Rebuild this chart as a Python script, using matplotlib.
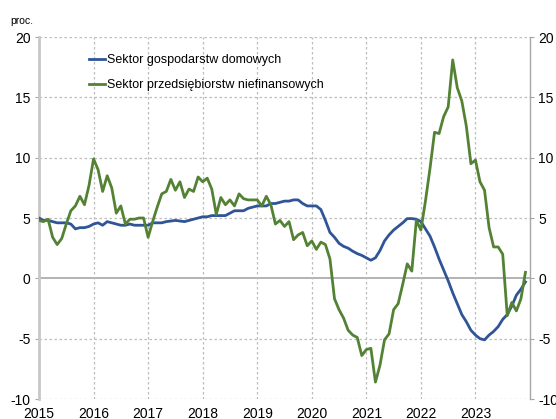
import numpy as np
import matplotlib
matplotlib.use("Agg")
import matplotlib.pyplot as plt

plt.rcParams['font.family'] = ['Liberation Sans', 'DejaVu Sans']

# Monthly data, Jan 2015 - Dec 2023 (y/y, %)
households = [
    5.0, 4.8, 4.8, 4.7, 4.6, 4.6, 4.6, 4.5, 4.1, 4.2, 4.2, 4.3,
    4.5, 4.6, 4.4, 4.7, 4.6, 4.5, 4.4, 4.4, 4.5, 4.4, 4.4, 4.4,
    4.4, 4.6, 4.6, 4.6, 4.7, 4.75, 4.8, 4.75, 4.7, 4.8, 4.9, 5.0,
    5.1, 5.1, 5.2, 5.2, 5.2, 5.2, 5.4, 5.6, 5.6, 5.6, 5.8, 5.9,
    6.0, 6.0, 6.0, 6.2, 6.2, 6.3, 6.4, 6.4, 6.5, 6.5, 6.2, 6.0,
    6.0, 6.0, 5.7, 4.8, 3.8, 3.4, 2.9, 2.65, 2.5, 2.25, 2.05, 1.9,
    1.7, 1.5, 1.7, 2.3, 3.1, 3.6, 4.0, 4.3, 4.6, 4.95, 4.95, 4.9,
    4.7, 4.1, 3.5, 2.6, 1.6, 0.7, -0.2, -1.2, -2.1, -3.0, -3.6, -4.3,
    -4.7, -5.0, -5.1, -4.7, -4.4, -4.0, -3.4, -3.0, -2.3, -1.4, -0.9, -0.3,
]
enterprises = [
    4.8, 4.7, 4.9, 3.4, 2.8, 3.3, 4.5, 5.6, 6.0, 6.8, 6.1, 7.7,
    9.9, 9.0, 7.2, 8.5, 7.5, 5.4, 6.0, 4.5, 4.9, 4.9, 5.0, 5.0,
    3.4, 4.7, 5.9, 7.0, 7.2, 8.2, 7.3, 8.0, 6.7, 7.4, 7.2, 8.4,
    8.0, 8.3, 7.4, 5.3, 6.7, 6.1, 6.5, 6.0, 7.0, 6.6, 6.5, 6.5,
    6.5, 6.0, 6.8, 6.1, 4.5, 4.8, 4.3, 4.7, 3.2, 3.6, 3.8, 2.7,
    3.1, 2.4, 3.0, 2.8, 1.6, -1.7, -2.6, -3.3, -4.3, -4.7, -4.9, -6.4,
    -5.9, -5.8, -8.6, -7.2, -5.1, -4.6, -2.6, -2.1, -0.5, 1.2, 0.6, 4.8,
    4.0, 6.4, 9.1, 12.1, 12.0, 13.4, 14.2, 18.1, 15.8, 14.7, 12.6, 9.5,
    9.8, 8.0, 7.3, 4.2, 2.6, 2.6, 2.0, -3.1, -2.0, -2.7, -1.7, 0.5,
]
series_labels = ["Sektor gospodarstw domowych", "Sektor przedsiębiorstw niefinansowych"]
years = [2015, 2016, 2017, 2018, 2019, 2020, 2021, 2022, 2023]
y_ticks = [-10, -5, 0, 5, 10, 15, 20]

x = 2015 + np.arange(len(households)) / 12.0

fig = plt.figure(figsize=(5.56, 4.19), dpi=100)
ax = fig.add_axes([39/556, 20/419, 491/556, 362/419])

grid_col = '#BDBDBD'
for yv in y_ticks:
    if yv == 0:
        ax.axhline(yv, color='#A6A6A6', lw=1.2, zorder=1)
    else:
        ax.axhline(yv, color=grid_col, lw=0.9, ls=(0, (2, 2)), zorder=1)
for yr in years[1:]:
    ax.axvline(yr, color=grid_col, lw=0.9, ls=(0, (2, 2)), zorder=1)

ax.plot(x, households, color='#2F5597', lw=2.0, label=series_labels[0], zorder=3)
ax.plot(x, enterprises, color='#548235', lw=2.0, label=series_labels[1], zorder=3)

ax.set_xlim(2015, 2024)
ax.set_ylim(-10, 20)
ax.set_yticks(y_ticks)
ax.set_yticklabels([str(v) for v in y_ticks])
ax.set_xticks(years)
ax.set_xticklabels([str(v) for v in years])

ax.tick_params(axis='y', which='both', left=True, right=True, labelleft=True,
               labelright=True, direction='out', length=3, width=0.8,
               color='#A6A6A6', labelsize=10, pad=3)
ax.tick_params(axis='x', length=0, labelsize=10, pad=6)

for s in ['top', 'bottom']:
    ax.spines[s].set_visible(False)
ax.spines['left'].set_color('#C8C8C8')
ax.spines['left'].set_linewidth(2.0)
ax.spines['right'].set_color('#A6A6A6')
ax.spines['right'].set_linewidth(1.0)

fig.text(10/556, 1 - 21/419, "proc.", fontsize=7.5, va='center', ha='left')

leg = ax.legend(loc='upper left', bbox_to_anchor=(89/556, 1 - 54/419),
                bbox_transform=fig.transFigure, frameon=False, fontsize=9,
                handlelength=1.3, handletextpad=0.15, labelspacing=1.05,
                borderaxespad=0, borderpad=0)

fig.savefig("out.png", dpi=100)
